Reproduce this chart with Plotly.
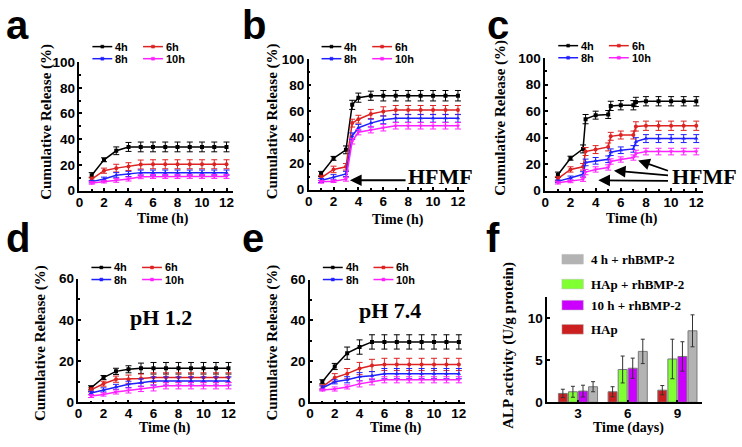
import plotly.graph_objects as go

W, H = 742, 447

# ---------------- data ----------------
series_names = ["4h", "6h", "8h", "10h"]
series_colors = ["#000000", "#dd2222", "#2020ff", "#ff20ff"]
series_symbols = ["square", "circle", "triangle-up", "triangle-down"]

t12 = [1, 2, 3, 4, 5, 6, 7, 8, 9, 10, 11, 12]

# panel a
a_4h = [12, 24, 31, 34, 34, 34, 34, 34, 34, 34, 34, 34]
a_4h_err = [2, 1.5, 3, 3.5, 3.8, 3.8, 3.8, 3.8, 3.8, 3.8, 3.8, 3.8]
a_6h = [9, 15.5, 17.5, 18.7, 20.3, 20.5, 20.5, 20.5, 20.5, 20.5, 20.5, 20.5]
a_6h_err = [1.5, 2, 3, 3, 3.5, 3.5, 3.5, 3.5, 3.5, 3.5, 3.5, 3.5]
a_8h = [7, 9, 12, 13, 14, 14, 14, 14, 14, 14, 14, 14]
a_8h_err = [1, 1.5, 2, 2, 2, 2, 2, 2, 2, 2, 2, 2]
a_10h = [6, 7, 8, 9, 10.8, 11, 11, 11, 11, 11, 11, 11]
a_10h_err = [1, 1, 1.5, 1.5, 1.5, 1.5, 1.5, 1.5, 1.5, 1.5, 1.5, 1.5]

# panel b (HFMF applied at 3 h)
tb = [1, 2, 3, 3.5, 4, 5, 6, 7, 8, 9, 10, 11, 12]
b_4h = [12, 24, 30.5, 65, 70.5, 72, 72, 72, 72, 72, 72, 72, 72]
b_4h_err = [2, 1.5, 3, 3.5, 3.5, 3.5, 4, 4, 4, 4, 4, 4, 4]
b_6h = [9, 15.5, 17.5, 51, 54, 58, 60, 61, 61, 61, 61, 61, 61]
b_6h_err = [2, 2.5, 2.5, 3, 3, 3.5, 3.5, 3.5, 3.5, 3.5, 3.5, 3.5, 3.5]
b_8h = [7, 9.5, 12, 41, 47.5, 51, 53.5, 54.7, 54.7, 54.7, 54.7, 54.7, 54.7]
b_8h_err = [1.5, 2, 2, 2.5, 2.5, 3, 3, 3, 3, 3, 3, 3, 3]
b_10h = [6, 6.5, 8, 37, 44, 46, 47.5, 49, 49, 49, 49, 49, 49]
b_10h_err = [1, 1, 1.5, 2, 2, 2.5, 2.5, 2.5, 2.5, 2.5, 2.5, 2.5, 2.5]

# panel c (HFMF applied at 3, 5, 7 h)
tc = [1, 2, 3, 3.2, 4, 5, 5.2, 6, 7, 7.2, 8, 9, 10, 11, 12]
c_4h = [12, 24.5, 31.5, 54, 57, 57.5, 64, 64.5, 64.5, 67, 67.5, 67.5, 67.5, 67.5, 67.5]
c_4h_err = [2, 1.5, 3, 3.5, 3, 3, 3.5, 3.5, 3.5, 3.5, 3.5, 3.5, 3.5, 3.5, 3.5]
c_6h = [9, 16, 18, 29.5, 31, 33, 41, 42, 42, 48.5, 49, 49, 49, 49, 49]
c_6h_err = [1.5, 2, 2.5, 3, 3, 3, 3, 3, 3, 3.5, 3.5, 3.5, 3.5, 3.5, 3.5]
c_8h = [7, 9.5, 12.3, 21.3, 22.5, 23.7, 29, 30.5, 31.5, 37, 39.3, 39.3, 39.3, 39.3, 39.3]
c_8h_err = [1, 1.5, 2, 2.5, 2.5, 2.5, 2.5, 2.5, 2.5, 3, 3, 3, 3, 3, 3]
c_10h = [6, 7, 8.5, 14, 16, 17.5, 22, 23.5, 25, 28, 29.5, 29.5, 29.5, 29.5, 29.5]
c_10h_err = [1, 1, 1.5, 2, 2, 2, 2, 2, 2, 2.5, 2.5, 2.5, 2.5, 2.5, 2.5]

# panel d (pH 1.2)
d_4h = [7, 12, 15, 16, 16.5, 16.5, 16.5, 16.5, 16.5, 16.5, 16.5, 16.5]
d_4h_err = [1, 1, 1.5, 1.7, 2.5, 2.8, 2.8, 2.8, 2.8, 2.8, 2.8, 2.8]
d_6h = [6, 9, 11.2, 11.2, 11.5, 12, 12, 12, 12, 12, 12, 12]
d_6h_err = [1, 1.2, 1.5, 2, 2.2, 2.3, 2.3, 2.3, 2.3, 2.3, 2.3, 2.3]
d_8h = [4.5, 6, 7.5, 8.7, 9.5, 10.3, 10.3, 10.3, 10.3, 10.3, 10.3, 10.3]
d_8h_err = [0.8, 1, 1.2, 1.5, 1.8, 2, 2, 2, 2, 2, 2, 2]
d_10h = [3, 3.8, 5, 5.7, 6.5, 7, 8, 8, 8, 8, 8, 8]
d_10h_err = [0.7, 0.8, 1, 1.2, 1.3, 1.5, 1.5, 1.5, 1.5, 1.5, 1.5, 1.5]

# panel e (pH 7.4)
e_4h = [10, 17.5, 24, 27, 29.5, 29.5, 29.5, 29.5, 29.5, 29.5, 29.5, 29.5]
e_4h_err = [1, 1.5, 3, 3.5, 3.5, 3.5, 3.5, 3.5, 3.5, 3.5, 3.5, 3.5]
e_6h = [7.5, 12, 14, 16.5, 18, 18.5, 18.5, 18.5, 18.5, 18.5, 18.5, 18.5]
e_6h_err = [1, 2, 2.5, 3, 3, 3, 3, 3, 3, 3, 3, 3]
e_8h = [7, 10, 11, 12.5, 13, 14, 14, 14, 14, 14, 14, 14]
e_8h_err = [1, 1, 1.5, 2, 2, 2.5, 2.5, 2.5, 2.5, 2.5, 2.5, 2.5]
e_10h = [6, 6.5, 7.5, 9, 10, 11, 11, 11, 11, 11, 11, 11]
e_10h_err = [0.5, 1, 1, 1.5, 1.5, 1.5, 1.5, 1.5, 1.5, 1.5, 1.5, 1.5]

# panel f (ALP activity)
days = [3, 6, 9]
day_labels = ["3", "6", "9"]
bar_names = ["HAp", "HAp + rhBMP-2", "10 h + rhBMP-2", "4 h + rhBMP-2"]
bar_colors = ["#cc1f1f", "#80ff33", "#cc00ff", "#b3b3b3"]
f_hap = [1.05, 1.25, 1.44]
f_hap_err = [0.5, 0.6, 0.55]
f_hap_rh = [1.25, 3.9, 5.15]
f_hap_rh_err = [0.65, 1.6, 2.35]
f_10h_rh = [1.33, 4.05, 5.45]
f_10h_rh_err = [0.7, 1.2, 1.75]
f_4h_rh = [1.85, 6.05, 8.5]
f_4h_rh_err = [0.6, 1.45, 1.9]

# ---------------- helpers ----------------
def px(x):
    return x / W

def py(y):
    return 1 - y / H

SANS = "Liberation Sans"
SERIF = "Liberation Serif"

fig = go.Figure()
shapes = []
annotations = []

line_panels = [
    ("a", t12, [(a_4h, a_4h_err), (a_6h, a_6h_err), (a_8h, a_8h_err), (a_10h, a_10h_err)]),
    ("b", tb, [(b_4h, b_4h_err), (b_6h, b_6h_err), (b_8h, b_8h_err), (b_10h, b_10h_err)]),
    ("c", tc, [(c_4h, c_4h_err), (c_6h, c_6h_err), (c_8h, c_8h_err), (c_10h, c_10h_err)]),
    ("d", t12, [(d_4h, d_4h_err), (d_6h, d_6h_err), (d_8h, d_8h_err), (d_10h, d_10h_err)]),
    ("e", t12, [(e_4h, e_4h_err), (e_6h, e_6h_err), (e_8h, e_8h_err), (e_10h, e_10h_err)]),
]

# pixel geometry of each panel
geom = {
    "a": dict(x0=76, x1=230.2, yb=190, yt=57, yr=[0, 100], leg=[41, 53.5]),
    "b": dict(x0=306.7, x1=463.3, yb=189, yt=54, yr=[0, 100], leg=[41, 53.5]),
    "c": dict(x0=545, x1=703.3, yb=190, yt=53, yr=[0, 100], leg=[40, 52.5]),
    "d": dict(x0=75, x1=232.3, yb=409, yt=281, yr=[0, 60], leg=[269.5, 282]),
    "e": dict(x0=308, x1=464.2, yb=409, yt=282, yr=[0, 60], leg=[269.5, 282]),
    "f": dict(x0=547, x1=703, yb=409, yt=300.25, yr=[0, 12.5]),
}

tickfont = dict(family=SANS, size=13.5, color="black", weight="bold")
axis_common = dict(showline=True, linecolor="black", linewidth=1.5, ticks="inside",
                   ticklen=3, tickwidth=1.5, tickcolor="black", showgrid=False,
                   zeroline=False, tickfont=tickfont, mirror=False)

layout_axes = {}
for i, key in enumerate(["a", "b", "c", "d", "e", "f"]):
    g = geom[key]
    n = "" if i == 0 else str(i + 1)
    xd = [px(g["x0"]), px(g["x1"])]
    yd = [py(g["yb"]), py(g["yt"])]
    if key != "f":
        layout_axes["xaxis" + n] = dict(axis_common, domain=xd, anchor="y" + n, range=[0, 12.5],
                                       dtick=2, tick0=0, ticklabelstandoff=-2,
                                       minor=dict(ticks="inside", ticklen=2, dtick=1, tickcolor="black"))
        layout_axes["yaxis" + n] = dict(axis_common, domain=yd, anchor="x" + n, range=g["yr"],
                                       dtick=20, tick0=0,
                                       minor=dict(ticks="inside", ticklen=2, dtick=10, tickcolor="black"))
    else:
        layout_axes["xaxis" + n] = dict(axis_common, domain=xd, anchor="y" + n, range=[1.15, 10.5],
                                       tickvals=days, ticktext=day_labels, ticklabelstandoff=-2)
        layout_axes["yaxis" + n] = dict(axis_common, domain=yd, anchor="x" + n, range=g["yr"],
                                       tickvals=[0, 5, 10])

# line traces
for i, (key, tx, sers) in enumerate(line_panels):
    n = "" if i == 0 else str(i + 1)
    for k, (vals, errs) in enumerate(sers):
        fig.add_trace(go.Scatter(
            x=tx, y=vals, mode="lines+markers", name=series_names[k], showlegend=False,
            line=dict(color=series_colors[k], width=1.5),
            marker=dict(symbol=series_symbols[k], size=4, color=series_colors[k]),
            error_y=dict(type="data", array=errs, color=series_colors[k], thickness=1, width=3),
            xaxis="x" + n, yaxis="y" + n))
    # manual two-column legend
    g = geom[key]
    offsets = [(13, 33, 35), (64, 84, 86)]
    for k, name in enumerate(series_names):
        col, row = k % 2, k // 2
        lx0, lx1, ttx = offsets[col]
        yy = g["leg"][row]
        shapes.append(dict(type="line", xref="paper", yref="paper",
                           x0=px(g["x0"] + lx0), x1=px(g["x0"] + lx1), y0=py(yy), y1=py(yy),
                           line=dict(color=series_colors[k], width=1.5)))
        cx = g["x0"] + (lx0 + lx1) / 2
        shapes.append(dict(type="rect", xref="paper", yref="paper",
                           x0=px(cx - 1.5), x1=px(cx + 1.5), y0=py(yy - 1.5), y1=py(yy + 1.5),
                           line=dict(color=series_colors[k], width=0.5), fillcolor=series_colors[k]))
        annotations.append(dict(text=name, x=px(g["x0"] + ttx), y=py(yy), xref="paper", yref="paper",
                                xanchor="left", yanchor="middle", showarrow=False, borderpad=0,
                                font=dict(family=SANS, size=11, color="black", weight="bold")))

# bar traces (panel f)
bar_vals = [(f_hap, f_hap_err), (f_hap_rh, f_hap_rh_err), (f_10h_rh, f_10h_rh_err), (f_4h_rh, f_4h_rh_err)]
for k, (vals, errs) in enumerate(bar_vals):
    fig.add_trace(go.Bar(
        x=days, y=vals, name=bar_names[k], showlegend=False,
        marker=dict(color=bar_colors[k], line=dict(color="#7a7a7a", width=1)),
        error_y=dict(type="data", array=errs, color="#333333", thickness=1, width=2),
        xaxis="x6", yaxis="y6"))

# manual legend for f (top-to-bottom reverse order)
leg_rows = [261, 286.7, 308.5, 333.5]
for r, k in enumerate([3, 1, 2, 0]):
    yy = leg_rows[r]
    shapes.append(dict(type="rect", xref="paper", yref="paper",
                       x0=px(561.7), x1=px(583.3), y0=py(yy + 5), y1=py(yy - 5),
                       fillcolor=bar_colors[k], line=dict(color="#bbbbbb", width=0.5)))
    annotations.append(dict(text=bar_names[k], x=px(589), y=py(yy), xref="paper", yref="paper",
                            xanchor="left", yanchor="middle", showarrow=False,
                            font=dict(family=SERIF, size=13, color="black", weight="bold")))

# panel letters
letter_font = dict(family=SANS, size=40, color="black", weight="bold")
for lab, lx, base in [("a", 0, 33), ("b", 238, 33), ("c", 484, 33),
                      ("d", 0, 253), ("e", 238, 253), ("f", 483, 253)]:
    annotations.append(dict(text=lab, x=px(lx), y=py(base - 13.9), xref="paper", yref="paper",
                            xanchor="left", yanchor="middle", showarrow=False, font=letter_font))

# axis titles
title_font_y = dict(family=SERIF, size=15, color="black", weight="bold")
title_font_x = dict(family=SERIF, size=14, color="black", weight="bold")
for cx, cy in [(42, 119), (270, 118), (500, 115), (37, 348), (270, 347)]:
    annotations.append(dict(text="Cumulative Release (%)", x=px(cx), y=py(cy), xref="paper", yref="paper",
                            xanchor="center", yanchor="middle", textangle=-90, showarrow=False,
                            font=title_font_y))
annotations.append(dict(text="ALP activity (U/g protein)", x=px(508), y=py(350), xref="paper", yref="paper",
                        xanchor="center", yanchor="middle", textangle=-90, showarrow=False,
                        font=title_font_y))
for cx, cy in [(160, 219), (396.7, 220), (632.5, 219.5), (162.5, 436), (395, 436)]:
    annotations.append(dict(text="Time (h)", x=px(cx), y=py(cy), xref="paper", yref="paper",
                            xanchor="center", yanchor="middle", showarrow=False, font=title_font_x))
annotations.append(dict(text="Time (days)", x=px(629), y=py(436), xref="paper", yref="paper",
                        xanchor="center", yanchor="middle", showarrow=False, font=title_font_x))

# condition labels
big_serif = dict(family=SERIF, size=22, color="black", weight="bold")
annotations.append(dict(text="HFMF", x=px(404.7), y=py(175.5), xref="paper", yref="paper",
                        xanchor="left", yanchor="middle", showarrow=False, font=big_serif))
annotations.append(dict(text="HFMF", x=px(670.7), y=py(175), xref="paper", yref="paper",
                        xanchor="left", yanchor="middle", showarrow=False, font=big_serif))
ph_font = dict(family=SERIF, size=22, color="black", weight="bold")
annotations.append(dict(text="pH 1.2", x=px(158.3), y=py(321), xref="paper", yref="paper",
                        xanchor="center", yanchor="middle", showarrow=False, font=ph_font))
annotations.append(dict(text="pH 7.4", x=px(388.3), y=py(314), xref="paper", yref="paper",
                        xanchor="center", yanchor="middle", showarrow=False, font=ph_font))

# arrows (head at x,y; tail at ax,ay in data coords)
arrow_style = dict(showarrow=True, text="", arrowhead=2, arrowsize=1.3, arrowwidth=1.8,
                   arrowcolor="black", standoff=0, startstandoff=0)
annotations.append(dict(arrow_style, x=3.32, y=7.2, ax=7.91, ay=7.2, xref="x2", yref="y2",
                        axref="x2", ayref="y2"))
for hx, hy, tx_, ty_ in [(4.21, 7.8, 9.87, 7.3), (5.45, 15.1, 9.87, 11.5), (7.38, 22.8, 9.87, 14.6)]:
    annotations.append(dict(arrow_style, x=hx, y=hy, ax=tx_, ay=ty_, xref="x3", yref="y3",
                            axref="x3", ayref="y3"))

fig.update_layout(
    width=W, height=H, margin=dict(l=0, r=0, t=0, b=0),
    paper_bgcolor="white", plot_bgcolor="white",
    barmode="group", bargap=0.19, bargroupgap=0.11,
    showlegend=False, shapes=shapes, annotations=annotations,
    **layout_axes)

fig.write_html("out.html", config={"responsive": False, "displayModeBar": False},
               post_script=("document.documentElement.style.margin='0';"
                            "document.documentElement.style.overflow='hidden';"
                            "document.body.style.margin='0';document.body.style.padding='0';"
                            "document.body.style.overflow='hidden';"))
